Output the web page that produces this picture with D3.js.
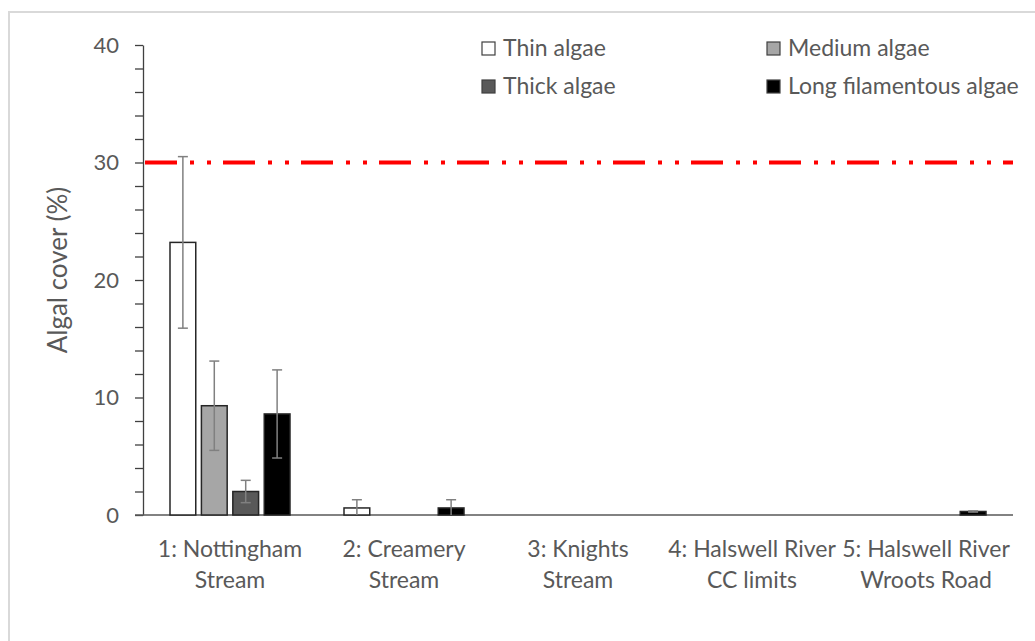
<!DOCTYPE html>
<html>
<head>
<meta charset="utf-8">
<script src="https://cdn.jsdelivr.net/npm/d3@7"></script>
<style>
  html, body { margin: 0; padding: 0; background: #fff; }
  svg { display: block; }
  text { font-family: Lato, "Open Sans", sans-serif; fill: #595959; }
</style>
</head>
<body>
<svg id="chart" width="1035" height="641"></svg>
<script>
// Sites (two-line labels) and algae classes
const sites = [
  ["1: Nottingham", "Stream"],
  ["2: Creamery", "Stream"],
  ["3: Knights", "Stream"],
  ["4: Halswell River", "CC limits"],
  ["5: Halswell River", "Wroots Road"]
];
const seriesNames = ["Thin algae", "Medium algae", "Thick algae", "Long filamentous algae"];
const seriesFill = ["#ffffff", "#a6a6a6", "#595959", "#000000"];

// Mean cover (%) per site, one array per class
const thinAlgae = [23.2, 0.6, 0, 0, 0];
const mediumAlgae = [9.3, 0, 0, 0, 0];
const thickAlgae = [2.0, 0, 0, 0, 0];
const longFilamentousAlgae = [8.6, 0.6, 0, 0, 0.3];

// Error (± %) per site, one array per class
const thinErr = [7.3, 0.7, 0, 0, 0];
const mediumErr = [3.8, 0, 0, 0, 0];
const thickErr = [0.95, 0, 0, 0, 0];
const longErr = [3.75, 0.7, 0, 0, 0.05];

const yTicks = [0, 10, 20, 30, 40];
const guideline = 30; // cover guideline (%)

const values = [thinAlgae, mediumAlgae, thickAlgae, longFilamentousAlgae];
const errors = [thinErr, mediumErr, thickErr, longErr];

const svg = d3.select("#chart");

// outer chart border
svg.append("rect")
  .attr("x", 9).attr("y", 12).attr("width", 1040).attr("height", 650)
  .attr("fill", "none").attr("stroke", "#d9d9d9").attr("stroke-width", 2);

const x0 = d3.scaleBand().domain(d3.range(sites.length)).range([143, 1013]).padding(0);
const x1 = d3.scaleBand().domain(d3.range(seriesNames.length)).range([-60, 60]).paddingInner(0.18);
const y = d3.scaleLinear().domain([0, 40]).range([515, 45]);

// y axis with minor ticks every 2 units
const yAxisG = svg.append("g").attr("transform", "translate(143,0)")
  .call(d3.axisLeft(y).tickValues(d3.range(0, 41, 2)).tickSize(8).tickSizeOuter(0).tickFormat(""));
yAxisG.select(".domain").attr("stroke", "#404040").attr("stroke-width", 1.3);
yAxisG.selectAll(".tick line").attr("stroke", "#404040").attr("stroke-width", 1.3);

svg.append("g").selectAll("text").data(yTicks).join("text")
  .attr("x", 119).attr("y", d => y(d)).attr("dy", "0.36em")
  .attr("text-anchor", "end").attr("font-size", 22).text(d => d);

// y title
svg.append("text")
  .attr("transform", "translate(58,270) rotate(-90)")
  .attr("text-anchor", "middle").attr("dy", "0.35em")
  .attr("font-size", 26).text("Algal cover (%)");

// x axis baseline
svg.append("line")
  .attr("x1", 135).attr("x2", 1013).attr("y1", y(0)).attr("y2", y(0))
  .attr("stroke", "#595959").attr("stroke-width", 1.3);

// x labels
const xl = svg.append("g").selectAll("text").data(sites).join("text")
  .attr("x", (d, i) => x0(i) + x0.bandwidth() / 2)
  .attr("text-anchor", "middle").attr("font-size", 23);
xl.append("tspan").attr("x", (d, i) => x0(i) + x0.bandwidth() / 2).attr("y", 557).text(d => d[0]);
xl.append("tspan").attr("x", (d, i) => x0(i) + x0.bandwidth() / 2).attr("y", 588).text(d => d[1]);

// bars
const bars = [];
values.forEach((arr, s) => arr.forEach((v, i) => {
  if (v > 0) bars.push({ s, i, v, e: errors[s][i] });
}));

const cx = d => x0(d.i) + x0.bandwidth() / 2 + x1(d.s);
svg.append("g").selectAll("rect").data(bars).join("rect")
  .attr("x", d => cx(d))
  .attr("y", d => y(d.v))
  .attr("width", x1.bandwidth())
  .attr("height", d => y(0) - y(d.v))
  .attr("fill", d => seriesFill[d.s])
  .attr("stroke", "#262626").attr("stroke-width", 1.5);

// error bars
const eg = svg.append("g").attr("stroke", "#808080").attr("stroke-width", 1.5);
bars.filter(d => d.e > 0).forEach(d => {
  const mx = cx(d) + x1.bandwidth() / 2;
  const lo = Math.max(0, d.v - d.e), hi = d.v + d.e;
  eg.append("line").attr("x1", mx).attr("x2", mx).attr("y1", y(lo)).attr("y2", y(hi));
  eg.append("line").attr("x1", mx - 5).attr("x2", mx + 5).attr("y1", y(hi)).attr("y2", y(hi));
  if (d.v - d.e > 0)
    eg.append("line").attr("x1", mx - 5).attr("x2", mx + 5).attr("y1", y(lo)).attr("y2", y(lo));
});

// guideline
svg.append("line")
  .attr("x1", 145).attr("x2", 1013).attr("y1", y(guideline)).attr("y2", y(guideline))
  .attr("stroke", "#ff0000").attr("stroke-width", 4)
  .attr("stroke-dasharray", "32,13,4,13,4,12");

// legend
const legendPos = [[482, 42], [767, 42], [482, 80], [767, 80]];
const lg = svg.append("g").selectAll("g").data(seriesNames).join("g")
  .attr("transform", (d, i) => `translate(${legendPos[i][0]},${legendPos[i][1]})`);
lg.append("rect").attr("x", 0).attr("y", 0).attr("width", 13).attr("height", 13)
  .attr("fill", (d, i) => seriesFill[i]).attr("stroke", "#404040").attr("stroke-width", 1.2);
lg.append("text").attr("x", 21).attr("y", 14).attr("font-size", 23).text(d => d);
</script>
</body>
</html>
